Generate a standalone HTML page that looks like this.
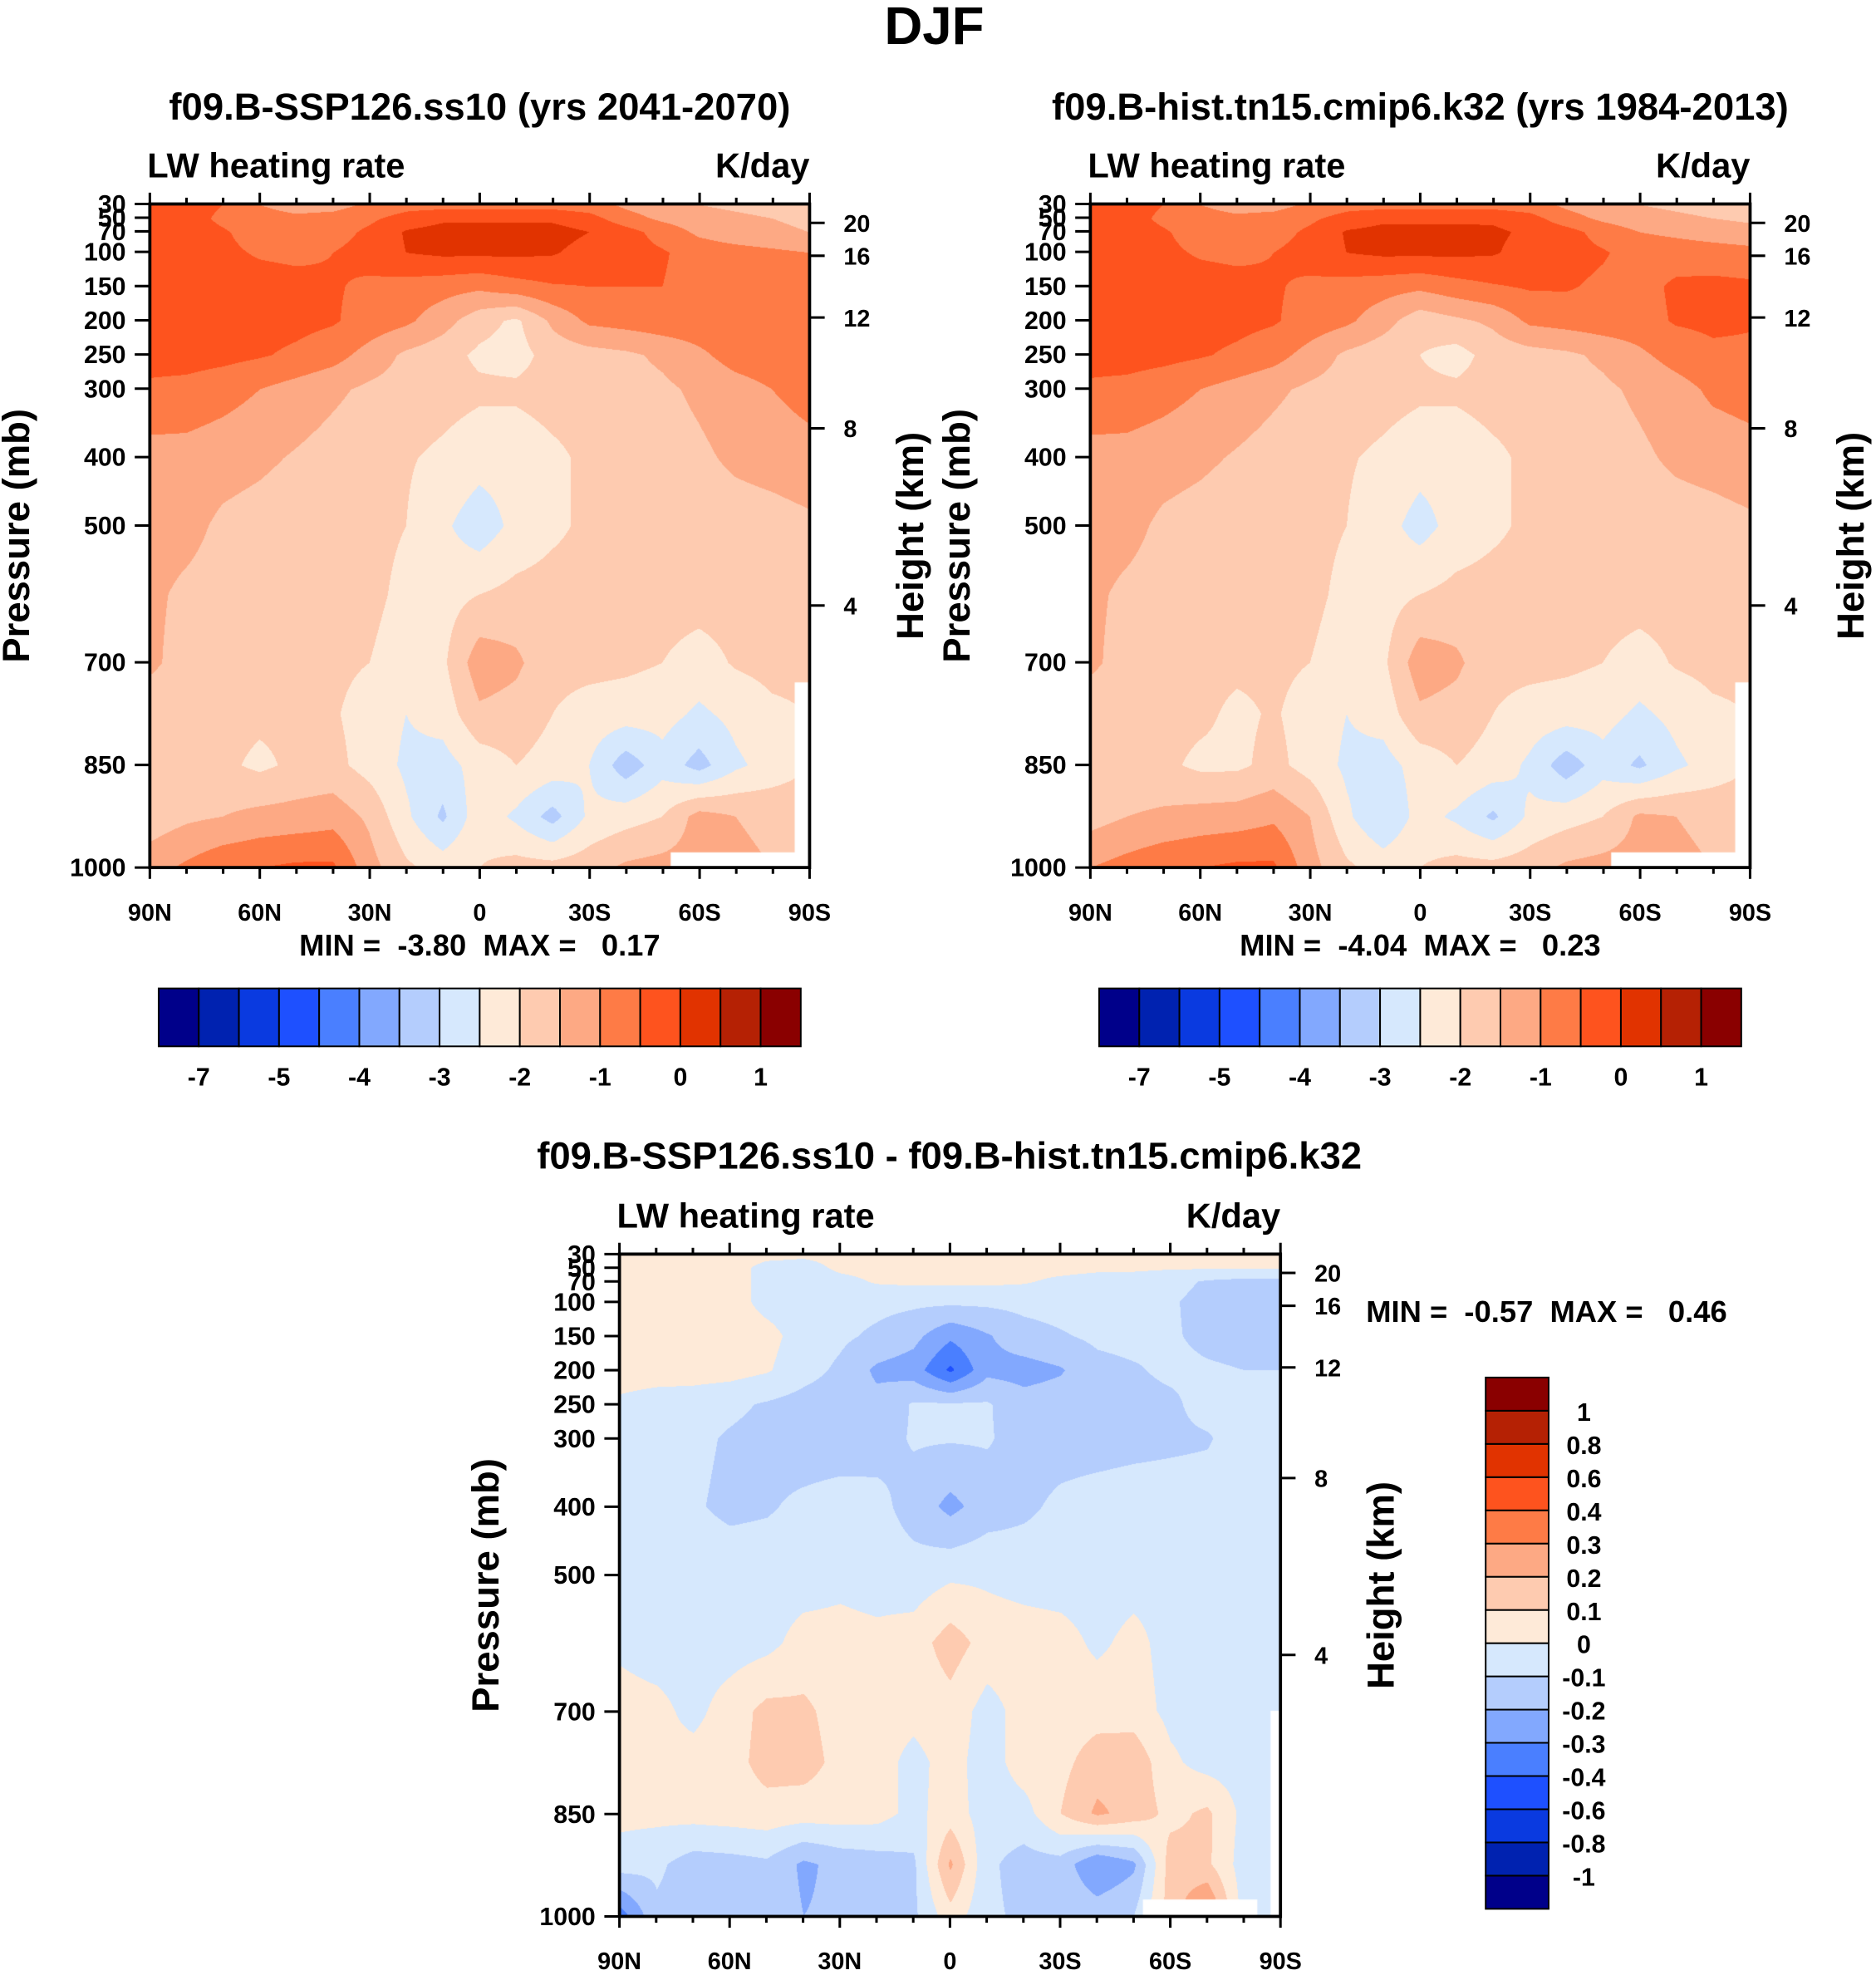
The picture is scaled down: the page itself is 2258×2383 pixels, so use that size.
<!DOCTYPE html>
<html><head><meta charset="utf-8">
<style>
html,body{margin:0;padding:0;background:#fff;}
body{width:2258px;height:2383px;position:relative;overflow:hidden;}
canvas{position:absolute;}
svg{position:absolute;left:0;top:0;}
text{font-family:"Liberation Sans",Arial,sans-serif;font-weight:bold;fill:#000;white-space:pre;}
</style></head>
<body>
<canvas id="cTL"></canvas>
<canvas id="cTR"></canvas>
<canvas id="cB"></canvas>
<svg id="svg" width="2258" height="2383" viewBox="0 0 1490 1572.5"></svg>
<script>
// ---------- data ----------
const levels=[30,50,70,100,150,200,250,300,400,500,600,700,775,850,925,1000];
const latLabels=['90N','60N','30N','0','30S','60S','90S'];
const pressureTicks=[30,50,70,100,150,200,250,300,400,500,700,850,1000];
const heightTicks=['20','16','12','8','4'];
const heightTickP=[57.6,105.7,196,358,617];
const threshTop=[-7,-6,-5,-4.5,-4,-3.5,-3,-2.5,-2,-1.5,-1,-0.5,0,0.5,1];
const cbLabelsTop=['-7','-5','-4','-3','-2','-1','0','1'];
const threshDiff=[-1,-0.8,-0.6,-0.4,-0.3,-0.2,-0.1,0,0.1,0.2,0.3,0.4,0.6,0.8,1];
const cbLabelsDiff=['-1','-0.8','-0.6','-0.4','-0.3','-0.2','-0.1','0','0.1','0.2','0.3','0.4','0.6','0.8','1'];
const palette=['#00008a','#0022b0','#0a3ae0','#1e50ff','#4a7fff','#82a8fe','#b4cdfd','#d6e8fd','#feead8','#fecbb0','#fda984','#fe7b46','#fe531e','#e13300','#b52104','#8a0000'];
const fieldA=[
[-0.25,-0.3,-0.5,-1.0,-1.2,-1.2,-0.9,-0.7,-0.7,-0.7,-0.7,-0.7,-0.8,-1.1,-1.3,-1.5,-1.6,-1.7,-1.7],
[-0.25,-0.3,-0.6,-0.8,-0.9,-0.8,-0.6,-0.3,-0.1,-0.1,-0.1,-0.1,-0.3,-0.8,-1.1,-1.3,-1.4,-1.5,-1.6],
[-0.25,-0.3,-0.45,-0.7,-0.8,-0.7,-0.4,0.05,0.2,0.2,0.2,0.2,0.0,-0.3,-0.7,-1.1,-1.3,-1.4,-1.5],
[-0.25,-0.3,-0.4,-0.55,-0.6,-0.5,-0.3,0.0,0.1,0.1,0.1,0.05,-0.2,-0.3,-0.45,-0.7,-0.8,-0.9,-1.0],
[-0.3,-0.3,-0.3,-0.3,-0.35,-0.45,-0.6,-0.7,-0.8,-0.9,-0.7,-0.55,-0.5,-0.5,-0.5,-0.7,-0.75,-0.8,-0.8],
[-0.3,-0.3,-0.3,-0.3,-0.35,-0.45,-0.7,-0.9,-1.3,-1.8,-2.1,-1.4,-0.9,-0.8,-0.7,-0.7,-0.7,-0.7,-0.7],
[-0.3,-0.3,-0.35,-0.45,-0.6,-0.8,-1.2,-1.6,-1.8,-2.1,-2.2,-1.8,-1.7,-1.6,-1.4,-1.1,-0.8,-0.7,-0.7],
[-0.6,-0.65,-0.8,-1.0,-1.2,-1.4,-1.6,-1.7,-1.8,-1.9,-1.9,-1.8,-1.8,-1.7,-1.6,-1.4,-1.2,-1.0,-0.8],
[-1.2,-1.2,-1.3,-1.4,-1.55,-1.7,-1.85,-1.95,-2.1,-2.3,-2.3,-2.1,-1.9,-1.8,-1.75,-1.6,-1.4,-1.3,-1.2],
[-1.3,-1.35,-1.6,-1.7,-1.8,-1.85,-1.9,-2.0,-2.4,-2.8,-2.35,-2.1,-1.9,-1.85,-1.8,-1.8,-1.75,-1.7,-1.6],
[-1.4,-1.6,-1.7,-1.8,-1.85,-1.85,-1.9,-2.1,-2.2,-2.0,-1.85,-1.8,-1.8,-1.8,-1.8,-1.8,-1.8,-1.8,-1.8],
[-1.4,-1.7,-1.8,-1.85,-1.9,-1.9,-2.0,-2.2,-2.1,-1.2,-1.4,-1.85,-1.85,-1.9,-2.0,-2.2,-1.95,-1.85,-1.85],
[-1.8,-1.85,-1.85,-1.9,-1.9,-1.95,-2.2,-2.5,-2.3,-1.6,-1.7,-2.0,-2.2,-2.25,-2.3,-2.6,-2.35,-2.1,-2.0],
[-1.8,-1.85,-1.9,-2.1,-1.9,-1.85,-2.2,-2.6,-2.7,-2.3,-2.0,-2.2,-2.5,-3.3,-2.7,-3.2,-2.6,-2.3,-2.0],
[-1.8,-1.6,-1.5,-1.35,-1.3,-1.2,-1.6,-2.4,-3.1,-2.2,-2.6,-3.2,-2.4,-2.2,-2.0,-1.3,-1.5,-1.6,-1.7],
[-1.2,-0.9,-0.6,-0.5,-0.4,-0.4,-1.3,-1.9,-2.2,-2.0,-1.8,-1.8,-1.7,-1.4,-1.3,-1.3,-1.4,-1.5,-1.6]
];
const fieldB=[
[-0.25,-0.3,-0.5,-1.0,-1.2,-1.2,-0.9,-0.7,-0.7,-0.7,-0.7,-0.7,-0.8,-1.1,-1.3,-1.5,-1.6,-1.7,-1.7],
[-0.25,-0.3,-0.6,-0.8,-0.9,-0.8,-0.6,-0.3,-0.1,-0.1,-0.1,-0.1,-0.3,-0.8,-1.1,-1.3,-1.4,-1.5,-1.6],
[-0.25,-0.3,-0.45,-0.7,-0.8,-0.7,-0.4,0.05,0.15,0.15,0.15,0.1,-0.1,-0.3,-0.7,-1.0,-1.1,-1.2,-1.3],
[-0.25,-0.3,-0.4,-0.55,-0.6,-0.5,-0.3,0.0,0.1,0.1,0.1,0.05,-0.2,-0.3,-0.45,-0.7,-0.75,-0.8,-0.85],
[-0.3,-0.3,-0.3,-0.3,-0.35,-0.45,-0.6,-0.7,-0.8,-0.9,-0.7,-0.55,-0.45,-0.45,-0.6,-0.7,-0.4,-0.35,-0.4],
[-0.3,-0.3,-0.3,-0.3,-0.35,-0.45,-0.7,-0.9,-1.3,-1.8,-1.6,-1.4,-0.9,-0.8,-0.7,-0.7,-0.45,-0.4,-0.45],
[-0.3,-0.3,-0.35,-0.45,-0.6,-0.8,-1.2,-1.6,-1.8,-2.0,-2.2,-1.8,-1.7,-1.6,-1.4,-1.1,-0.8,-0.6,-0.6],
[-0.6,-0.65,-0.8,-1.0,-1.2,-1.4,-1.6,-1.7,-1.8,-1.9,-1.9,-1.8,-1.8,-1.7,-1.6,-1.4,-1.2,-0.9,-0.8],
[-1.2,-1.2,-1.3,-1.4,-1.55,-1.7,-1.85,-1.95,-2.1,-2.3,-2.3,-2.1,-1.9,-1.8,-1.75,-1.6,-1.4,-1.3,-1.2],
[-1.3,-1.35,-1.6,-1.7,-1.8,-1.85,-1.9,-2.0,-2.3,-2.7,-2.3,-2.1,-1.9,-1.85,-1.8,-1.8,-1.75,-1.7,-1.6],
[-1.4,-1.6,-1.7,-1.8,-1.85,-1.85,-1.9,-2.1,-2.2,-2.0,-1.85,-1.8,-1.8,-1.8,-1.8,-1.8,-1.8,-1.8,-1.8],
[-1.4,-1.7,-1.8,-1.85,-1.9,-1.9,-2.0,-2.2,-2.1,-1.2,-1.4,-1.85,-1.85,-1.9,-2.0,-2.2,-1.95,-1.85,-1.85],
[-1.8,-1.85,-1.85,-1.9,-2.1,-1.95,-2.2,-2.5,-2.3,-1.6,-1.7,-2.0,-2.2,-2.25,-2.3,-2.6,-2.35,-2.1,-2.0],
[-1.8,-1.85,-1.9,-2.1,-2.1,-1.85,-2.2,-2.6,-2.7,-2.3,-2.0,-2.2,-2.6,-3.3,-2.7,-3.1,-2.6,-2.3,-2.0],
[-1.7,-1.5,-1.4,-1.3,-1.25,-1.1,-1.5,-2.4,-3.0,-2.3,-2.6,-3.1,-2.4,-2.2,-2.0,-1.4,-1.5,-1.6,-1.7],
[-1.0,-0.8,-0.6,-0.5,-0.4,-0.4,-1.3,-1.9,-2.2,-2.0,-1.8,-1.8,-1.7,-1.4,-1.3,-1.3,-1.4,-1.5,-1.6]
];
const fieldD=[
[0.05,0.05,0.05,0.05,0.03,0.02,0.03,0.04,0.04,0.04,0.04,0.04,0.04,0.03,0.02,0.01,0.01,0.01,0.01],
[0.05,0.05,0.05,0.04,-0.03,-0.04,0.02,0.03,0.03,0.03,0.03,0.03,0.03,0.02,0.02,0.01,0.01,0.01,0.01],
[0.05,0.05,0.05,0.04,-0.03,-0.05,-0.03,0.01,0.02,0.02,0.02,0.01,-0.02,-0.04,-0.05,-0.07,-0.11,-0.13,-0.13],
[0.05,0.05,0.05,0.04,-0.03,-0.05,-0.06,-0.07,-0.08,-0.08,-0.08,-0.07,-0.06,-0.06,-0.07,-0.09,-0.13,-0.14,-0.14],
[0.05,0.05,0.05,0.05,0.03,-0.04,-0.08,-0.12,-0.17,-0.28,-0.21,-0.14,-0.11,-0.08,-0.07,-0.09,-0.12,-0.13,-0.13],
[0.05,0.05,0.05,0.04,0.01,-0.06,-0.12,-0.22,-0.25,-0.42,-0.23,-0.24,-0.21,-0.13,-0.11,-0.08,-0.09,-0.1,-0.1],
[-0.02,-0.05,-0.06,-0.08,-0.11,-0.14,-0.16,-0.17,-0.09,-0.09,-0.09,-0.16,-0.15,-0.14,-0.13,-0.12,-0.06,-0.05,-0.05],
[-0.05,-0.06,-0.08,-0.11,-0.13,-0.15,-0.15,-0.14,-0.09,-0.09,-0.09,-0.14,-0.14,-0.14,-0.13,-0.12,-0.11,-0.05,-0.05],
[-0.05,-0.06,-0.09,-0.12,-0.11,-0.08,-0.06,-0.07,-0.14,-0.23,-0.15,-0.12,-0.08,-0.06,-0.05,-0.05,-0.05,-0.05,-0.05],
[-0.05,-0.05,-0.05,-0.05,-0.05,-0.05,-0.03,-0.05,-0.06,-0.02,-0.02,-0.04,-0.05,-0.05,-0.04,-0.03,-0.04,-0.05,-0.05],
[-0.02,-0.05,-0.05,-0.05,-0.03,0.04,0.04,0.03,0.05,0.15,0.06,0.05,0.04,-0.02,0.03,-0.04,-0.05,-0.05,-0.05],
[0.04,0.03,-0.03,0.05,0.13,0.12,0.06,0.04,0.03,0.06,-0.04,0.04,0.05,0.06,0.05,-0.03,-0.04,-0.05,-0.05],
[0.05,0.02,0.04,0.06,0.14,0.14,0.07,0.04,-0.03,0.04,-0.05,0.05,0.07,0.15,0.17,0.02,-0.04,-0.05,-0.05],
[0.03,0.03,0.04,0.05,0.06,0.05,0.05,0.04,-0.03,0.05,-0.05,-0.04,0.1,0.22,0.16,0.07,0.12,-0.03,-0.05],
[-0.05,-0.08,-0.15,-0.14,-0.12,-0.22,-0.17,-0.15,-0.12,0.22,-0.08,-0.14,-0.14,-0.3,-0.22,0.15,0.12,-0.05,-0.05],
[-0.35,-0.12,-0.15,-0.15,-0.13,-0.2,-0.18,-0.15,-0.12,0.06,-0.08,-0.12,-0.12,-0.14,-0.1,0.15,0.35,-0.05,-0.05]
];

// ---------- layout (display units, viewBox 1490 wide) ----------
const S=2258/1490;
const NS='http://www.w3.org/2000/svg';
const svg=document.getElementById('svg');
function el(tag,attrs,parent){const e=document.createElementNS(NS,tag);for(const k in attrs)e.setAttribute(k,attrs[k]);(parent||svg).appendChild(e);return e;}
function txt(str,x,y,size,anchor,parent,rot){const t=el('text',{x:x,y:y,'font-size':size,'text-anchor':anchor||'middle'},parent);if(rot)t.setAttribute('transform','rotate(-90 '+x+' '+y+')');t.textContent=str;return t;}

function interp(field,u,v){
  const p=30+v*970;
  let r=0;while(r<levels.length-2&&p>levels[r+1])r++;
  const fr=Math.min(1,Math.max(0,(p-levels[r])/(levels[r+1]-levels[r])));
  const cx=u*18;let c=Math.min(17,Math.floor(cx));const fc=cx-c;
  const a=field[r][c]*(1-fc)+field[r][c+1]*fc;
  const b=field[r+1][c]*(1-fc)+field[r+1][c+1]*fc;
  return a*(1-fr)+b*fr;
}
function hex(h){return [parseInt(h.substr(1,2),16),parseInt(h.substr(3,2),16),parseInt(h.substr(5,2),16)];}
const palRGB=palette.map(hex);
function drawField(id,field,thr,px,py,pw,ph,masks){
  const cv=document.getElementById(id);
  const X=Math.round(px*S),Y=Math.round(py*S),W=Math.round(pw*S),H=Math.round(ph*S);
  cv.width=W;cv.height=H;cv.style.left=X+'px';cv.style.top=Y+'px';
  const ctx=cv.getContext('2d');const img=ctx.createImageData(W,H);
  for(let j=0;j<H;j++){const v=j/(H-1);for(let i=0;i<W;i++){const u=i/(W-1);
    const val=interp(field,u,v);let k=0;while(k<thr.length&&val>=thr[k])k++;
    const c=palRGB[k];const o=(j*W+i)*4;img.data[o]=c[0];img.data[o+1]=c[1];img.data[o+2]=c[2];img.data[o+3]=255;}}
  ctx.putImageData(img,0,0);
  ctx.fillStyle='#fff';
  masks.forEach(m=>ctx.fillRect(m[0]*W,m[1]*H,(m[2]-m[0])*W,(m[3]-m[1])*H));
}

function axes(name,px,py,pw,ph){
  const g=el('g',{});
  
  
  const yOf=p=>py+(p-30)/970*ph;
  for(let i=0;i<=18;i++){const x=px+i/18*pw;const major=i%3===0;const L=major?9:5;
    const t1=el('line',{x1:x,y1:py,x2:x,y2:py-L,stroke:'#000','stroke-width':2},g);
    
    const t2=el('line',{x1:x,y1:py+ph,x2:x,y2:py+ph+L,stroke:'#000','stroke-width':2},g);
    }
  latLabels.forEach((s,i)=>{const t=txt(s,px+i/6*pw,py+ph+42,19,'middle',g);
    });
  pressureTicks.forEach(p=>{const y=yOf(p);
    const l=el('line',{x1:px-12,y1:y,x2:px,y2:y,stroke:'#000','stroke-width':2},g);
    
    const t=txt(String(p),px-19,y+7,20,'end',g);
    });
  heightTicks.forEach((s,i)=>{const y=yOf(heightTickP[i]);
    const l=el('line',{x1:px+pw,y1:y,x2:px+pw+12,y2:y,stroke:'#000','stroke-width':2},g);
    
    const t=txt(s,px+pw+27,y+7,19,'start',g);
    });
  const r=el('rect',{x:px,y:py,width:pw,height:ph,fill:'none',stroke:'#000','stroke-width':2.5},g);
  
  const lw=txt('LW heating rate',px-2,py-21,27.5,'start',g);
  
  const ku=txt('K/day',px+pw,py-21,27.5,'end',g);
  
  const yt=txt('Pressure (mb)',px-96,py+ph/2,30,'middle',g,true);
  
  const ht=txt('Height (km)',px+pw+90,py+ph/2,30,'middle',g,true);
  
}

function hbar(name,x,y,w,h){
  const g=el('g',{});
  
  
  const bw=w/16;
  palette.forEach((c,i)=>{const r=el('rect',{x:x+i*bw,y:y,width:bw,height:h,fill:c,stroke:'#000','stroke-width':1.3},g);
    });
  cbLabelsTop.forEach((s,i)=>{const t=txt(s,x+(2*i+1)*bw,y+h+31,20,'middle',g);
    });
}
function vbar(name,x,y,w,h){
  const g=el('g',{});
  
  
  const bh=h/16;
  palette.forEach((c,i)=>{const r=el('rect',{x:x,y:y+h-(i+1)*bh,width:w,height:bh,fill:c,stroke:'#000','stroke-width':1.3},g);
    });
  cbLabelsDiff.forEach((s,i)=>{const t=txt(s,x+78,y+h-(i+1)*bh+8,20,'middle',g);
    });
}

const TL=[119,162,524,527],TR=[866,162,524,527],BT=[492,996,525,526];
drawField('cTL',fieldA,threshTop,...TL,[[0.79,0.976,1,1],[0.978,0.72,1,1]]);
drawField('cTR',fieldB,threshTop,...TR,[[0.79,0.976,1,1],[0.978,0.72,1,1]]);
drawField('cB',fieldD,threshDiff,...BT,[[0.791,0.975,0.964,1],[0.984,0.69,1,1]]);
axes('left-panel-axes',...TL);
axes('right-panel-axes',...TR);
axes('diff-panel-axes',...BT);

const title=txt('DJF',742,35,42,'middle');

const s1=txt('f09.B-SSP126.ss10 (yrs 2041-2070)',381,95,30,'middle');

const s2=txt('f09.B-hist.tn15.cmip6.k32 (yrs 1984-2013)',1128,95,30,'middle');

const s3=txt('f09.B-SSP126.ss10 - f09.B-hist.tn15.cmip6.k32',754,928,30,'middle');

const m1=txt('MIN =  -3.80  MAX =   0.17',381,759,24,'middle');

const m2=txt('MIN =  -4.04  MAX =   0.23',1128,759,24,'middle');

const m3=txt('MIN =  -0.57  MAX =   0.46',1085,1050,24,'start');

hbar('left-colorbar',126,785,510,46);
hbar('right-colorbar',873,785,510,46);
vbar('diff-colorbar',1180,1094,50,422);
</script>
</body></html>
